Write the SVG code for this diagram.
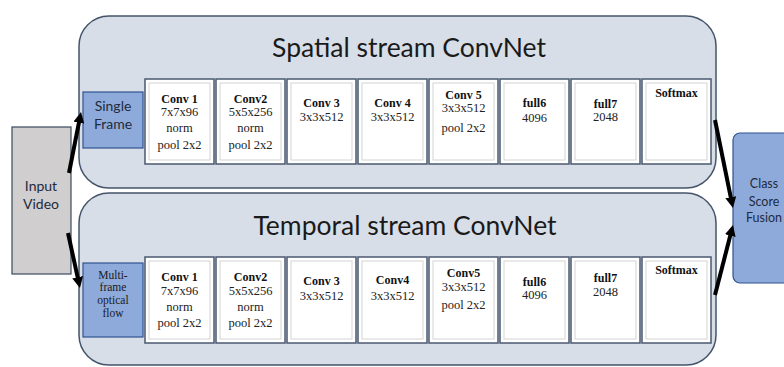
<svg xmlns="http://www.w3.org/2000/svg" width="784" height="367" viewBox="0 0 784 367">
<defs>
<style>
.panel{fill:#d8dee8;stroke:#44546a;stroke-width:1.5}
.layer{fill:#ffffff;stroke:#4a5a70;stroke-width:1.5}
.inner{fill:none;stroke:#c8c8c8;stroke-width:0.8}
.blue{fill:#8eaadb;stroke:#2f528f;stroke-width:1.2}
.gray{fill:#d0cece;stroke:#3b4a5e;stroke-width:1.2}
.title{font-family:Lato,"Liberation Sans",sans-serif;font-size:26.5px;fill:#1a1a1a;text-anchor:middle}
.sans{font-family:Lato,"Liberation Sans",sans-serif;font-size:14px;fill:#1f2a3c;text-anchor:middle}
.sans13{font-family:Lato,"Liberation Sans",sans-serif;font-size:12.5px;fill:#1f2a3c;text-anchor:middle}
.b{font-family:"Liberation Serif",serif;font-weight:bold;font-size:12px;fill:#111;text-anchor:middle}
.t{font-family:"Liberation Serif",serif;font-size:12.5px;fill:#222;text-anchor:middle}
.mf{font-family:"Liberation Serif",serif;font-size:11.5px;fill:#1a1a1a;text-anchor:middle}
.arrow{stroke:#000;stroke-width:4;fill:none;marker-end:url(#ah)}
</style>
<marker id="ah" viewBox="0 0 10 10" refX="2" refY="5" markerWidth="11" markerHeight="11" markerUnits="userSpaceOnUse" orient="auto">
<path d="M0,0 L10,5 L0,10 z" fill="#000"/>
</marker>
</defs>
<rect width="784" height="367" fill="#ffffff"/>

<g id="spatial-stream">
<rect class="panel" x="79" y="16" width="637" height="172" rx="30"/>
<text class="title" x="409" y="57">Spatial stream ConvNet</text>
</g>
<g id="temporal-stream">
<rect class="panel" x="79" y="193" width="637" height="172" rx="30"/>
<text class="title" x="405" y="235">Temporal stream ConvNet</text>
</g>

<g id="input-video">
<rect class="gray" x="12" y="127" width="59" height="147"/>
<text class="sans" x="41" y="191">Input</text>
<text class="sans" x="41" y="209">Video</text>
</g>

<g id="single-frame">
<rect class="blue" x="83" y="92" width="60" height="56"/>
<text class="sans" x="113" y="111">Single</text>
<text class="sans" x="113" y="129">Frame</text>
</g>

<g id="multi-frame">
<rect class="blue" x="83" y="263" width="60" height="74"/>
<text class="mf" x="113" y="279">Multi-</text>
<text class="mf" x="113" y="291">frame</text>
<text class="mf" x="113" y="304">optical</text>
<text class="mf" x="113" y="317">flow</text>
</g>

<g id="class-score-fusion">
<rect class="blue" x="733" y="133" width="60" height="150" rx="7"/>
<text class="sans13" x="764" y="188">Class</text>
<text class="sans13" x="764" y="206">Score</text>
<text class="sans13" x="764" y="222">Fusion</text>
</g>

<!-- Spatial stream layers -->
<g id="s-conv1">
<rect class="layer" x="145" y="79" width="69" height="85"/><rect class="inner" x="149" y="83" width="61" height="77"/>
<text class="b" x="179.5" y="103">Conv 1</text><text class="t" x="179.5" y="116">7x7x96</text><text class="t" x="179.5" y="132">norm</text><text class="t" x="179.5" y="149">pool 2x2</text>
</g>
<g id="s-conv2">
<rect class="layer" x="216" y="79" width="69" height="85"/><rect class="inner" x="220" y="83" width="61" height="77"/>
<text class="b" x="250.5" y="103">Conv2</text><text class="t" x="250.5" y="116">5x5x256</text><text class="t" x="250.5" y="132">norm</text><text class="t" x="250.5" y="149">pool 2x2</text>
</g>
<g id="s-conv3">
<rect class="layer" x="287" y="79" width="69" height="85"/><rect class="inner" x="291" y="83" width="61" height="77"/>
<text class="b" x="321.5" y="107">Conv 3</text><text class="t" x="321.5" y="121">3x3x512</text>
</g>
<g id="s-conv4">
<rect class="layer" x="358" y="79" width="69" height="85"/><rect class="inner" x="362" y="83" width="61" height="77"/>
<text class="b" x="392.5" y="107">Conv 4</text><text class="t" x="392.5" y="121">3x3x512</text>
</g>
<g id="s-conv5">
<rect class="layer" x="429" y="79" width="69" height="85"/><rect class="inner" x="433" y="83" width="61" height="77"/>
<text class="b" x="463.5" y="99">Conv 5</text><text class="t" x="463.5" y="112">3x3x512</text><text class="t" x="463.5" y="132">pool 2x2</text>
</g>
<g id="s-full6">
<rect class="layer" x="500" y="79" width="69" height="85"/><rect class="inner" x="504" y="83" width="61" height="77"/>
<text class="b" x="534.5" y="107">full6</text><text class="t" x="534.5" y="122">4096</text>
</g>
<g id="s-full7">
<rect class="layer" x="571" y="79" width="69" height="85"/><rect class="inner" x="575" y="83" width="61" height="77"/>
<text class="b" x="605.5" y="108">full7</text><text class="t" x="605.5" y="121">2048</text>
</g>
<g id="s-softmax">
<rect class="layer" x="642" y="79" width="69" height="85"/><rect class="inner" x="646" y="83" width="61" height="77"/>
<text class="b" x="676.5" y="97">Softmax</text>
</g>

<!-- Temporal stream layers -->
<g id="t-conv1">
<rect class="layer" x="145" y="257" width="69" height="86"/><rect class="inner" x="149" y="261" width="61" height="78"/>
<text class="b" x="179.5" y="281">Conv 1</text><text class="t" x="179.5" y="295">7x7x96</text><text class="t" x="179.5" y="311">norm</text><text class="t" x="179.5" y="327">pool 2x2</text>
</g>
<g id="t-conv2">
<rect class="layer" x="216" y="257" width="69" height="86"/><rect class="inner" x="220" y="261" width="61" height="78"/>
<text class="b" x="250.5" y="281">Conv2</text><text class="t" x="250.5" y="295">5x5x256</text><text class="t" x="250.5" y="311">norm</text><text class="t" x="250.5" y="327">pool 2x2</text>
</g>
<g id="t-conv3">
<rect class="layer" x="287" y="257" width="69" height="86"/><rect class="inner" x="291" y="261" width="61" height="78"/>
<text class="b" x="321.5" y="285">Conv 3</text><text class="t" x="321.5" y="300">3x3x512</text>
</g>
<g id="t-conv4">
<rect class="layer" x="358" y="257" width="69" height="86"/><rect class="inner" x="362" y="261" width="61" height="78"/>
<text class="b" x="392.5" y="284">Conv4</text><text class="t" x="392.5" y="300">3x3x512</text>
</g>
<g id="t-conv5">
<rect class="layer" x="429" y="257" width="69" height="86"/><rect class="inner" x="433" y="261" width="61" height="78"/>
<text class="b" x="463.5" y="277">Conv5</text><text class="t" x="463.5" y="291">3x3x512</text><text class="t" x="463.5" y="309">pool 2x2</text>
</g>
<g id="t-full6">
<rect class="layer" x="500" y="257" width="69" height="86"/><rect class="inner" x="504" y="261" width="61" height="78"/>
<text class="b" x="534.5" y="286">full6</text><text class="t" x="534.5" y="299">4096</text>
</g>
<g id="t-full7">
<rect class="layer" x="571" y="257" width="69" height="86"/><rect class="inner" x="575" y="261" width="61" height="78"/>
<text class="b" x="605.5" y="282">full7</text><text class="t" x="605.5" y="296">2048</text>
</g>
<g id="t-softmax">
<rect class="layer" x="642" y="257" width="69" height="86"/><rect class="inner" x="646" y="261" width="61" height="78"/>
<text class="b" x="676.5" y="274">Softmax</text>
</g>

<g id="connectors">
<line class="arrow" x1="69" y1="173" x2="79.3" y2="120.6"/>
<line class="arrow" x1="68" y1="233" x2="78.1" y2="279.4"/>
<line class="arrow" x1="715" y1="120" x2="731.2" y2="199.4"/>
<line class="arrow" x1="715" y1="295" x2="730.8" y2="233.5"/>
</g>
</svg>
